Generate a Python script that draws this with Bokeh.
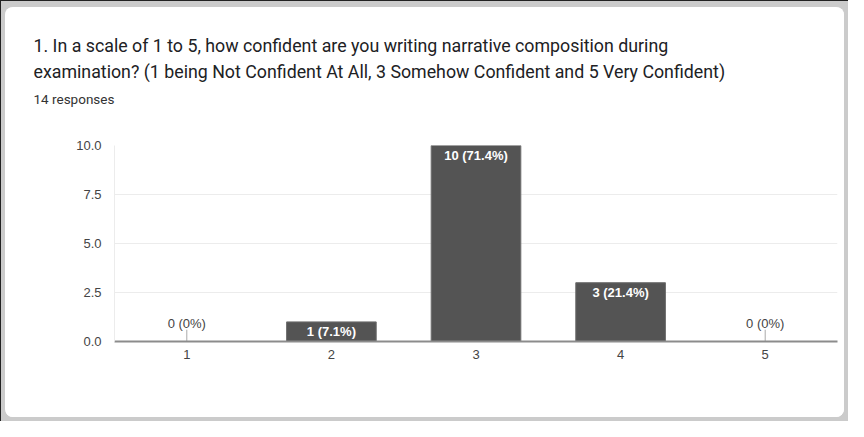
from bokeh.plotting import figure
from bokeh.models import ColumnDataSource, FactorRange, Range1d, FixedTicker, PrintfTickFormatter, Label
from bokeh.layouts import column
from bokeh.embed import file_html
from bokeh.resources import INLINE
from bokeh.core.properties import value

# ---- data ----
title_line1 = "1. In a scale of 1 to 5, how confident are you writing narrative composition during"
title_line2 = "examination? (1 being Not Confident At All, 3 Somehow Confident and 5 Very Confident)"
responses_text = "14 responses"
categories = ["1", "2", "3", "4", "5"]
counts = [0, 1, 10, 3, 0]
bar_labels = ["0 (0%)", "1 (7.1%)", "10 (71.4%)", "3 (21.4%)", "0 (0%)"]
y_ticks = [0, 2.5, 5, 7.5, 10]

STICK = 0.6  # style: height of the marker stick for empty categories (data units)

nz = [i for i, c in enumerate(counts) if c > 0]
zz = [i for i, c in enumerate(counts) if c == 0]
src_nz = ColumnDataSource(dict(cat=[categories[i] for i in nz], count=[counts[i] for i in nz],
                               label=[bar_labels[i] for i in nz]))
src_z = ColumnDataSource(dict(cat=[categories[i] for i in zz], count=[counts[i] for i in zz],
                              top=[counts[i] + STICK for i in zz], label=[bar_labels[i] for i in zz]))

CARD_W, TITLE_H, CHART_H = 839, 120, 290

# ---- title area ----
t = figure(width=CARD_W, height=TITLE_H, x_range=Range1d(0, 1), y_range=Range1d(0, 1),
           output_backend="svg", toolbar_location=None, title=None,
           x_axis_location=None, y_axis_location=None, min_border=0)
t.frame_align = False
t.outline_line_color = None
t.grid.visible = False
t.border_fill_color = "white"
t.background_fill_color = "white"
for txt, y, size, col in [(title_line1, 82, "17.8px", "#202124"),
                          (title_line2, 56, "17.8px", "#202124"),
                          (responses_text, 29, "13.5px", "#333333")]:
    t.add_layout(Label(x=28, y=y, x_units="screen", y_units="screen", text=txt,
                       text_baseline="middle", text_align="left", text_font="Roboto",
                       text_font_size=size, text_color=col))

# ---- chart ----
p = figure(width=CARD_W, height=CHART_H, x_range=FactorRange(*categories), y_range=Range1d(0, 10),
           output_backend="svg", toolbar_location=None, title=None,
           min_border_left=109, min_border_right=7, min_border_top=18, min_border_bottom=76)
p.frame_align = False
p.outline_line_color = None
p.border_fill_color = "white"
p.background_fill_color = "white"
p.xgrid.grid_line_color = None
p.ygrid.grid_line_color = "#ececec"
p.ygrid.ticker = FixedTicker(ticks=y_ticks)

ya = p.yaxis[0]
ya.ticker = FixedTicker(ticks=y_ticks)
ya.formatter = PrintfTickFormatter(format="%.1f")
ya.axis_line_color = "#ececec"
ya.major_tick_line_color = None
ya.minor_tick_line_color = None
ya.major_tick_out = 0
ya.major_label_standoff = 13
ya.major_label_text_font = "Liberation Sans"
ya.major_label_text_font_size = "13px"
ya.major_label_text_color = "#444444"

xa = p.xaxis[0]
xa.axis_line_color = "#8c8c8c"
xa.axis_line_width = 2
xa.major_tick_line_color = None
xa.minor_tick_line_color = None
xa.major_tick_out = 0
xa.major_label_standoff = 8
xa.major_label_text_font = "Liberation Sans"
xa.major_label_text_font_size = "13px"
xa.major_label_text_color = "#444444"

p.vbar(x="cat", top="count", width=0.62, source=src_nz, fill_color="#545454", line_color="#6e6e6e")
p.text(x="cat", y="count", text="label", source=src_nz, text_align="center", text_baseline="middle",
       y_offset=10, text_color="white", text_font=value("Liberation Sans"), text_font_size="13px",
       text_font_style="bold")
p.segment(x0="cat", y0="count", x1="cat", y1="top", source=src_z, line_color="#aaaaaa", line_width=1)
p.text(x="cat", y="count", text="label", source=src_z, text_align="center", text_baseline="middle",
       y_offset=-18, text_color="#444444", text_font=value("Liberation Sans"), text_font_size="13px")

card = column(t, p, width=CARD_W, height=TITLE_H + CHART_H,
              styles={"background-color": "white", "border-radius": "8px", "overflow": "hidden"})
card.margin = (7, 4, 4, 5)

layout = column(card, width=848, height=421,
                styles={"background-color": "#cbcbcb", "box-shadow": "inset 1px 1px 0 0 #222222"})

open("out.html", "w").write(file_html(layout, INLINE))
